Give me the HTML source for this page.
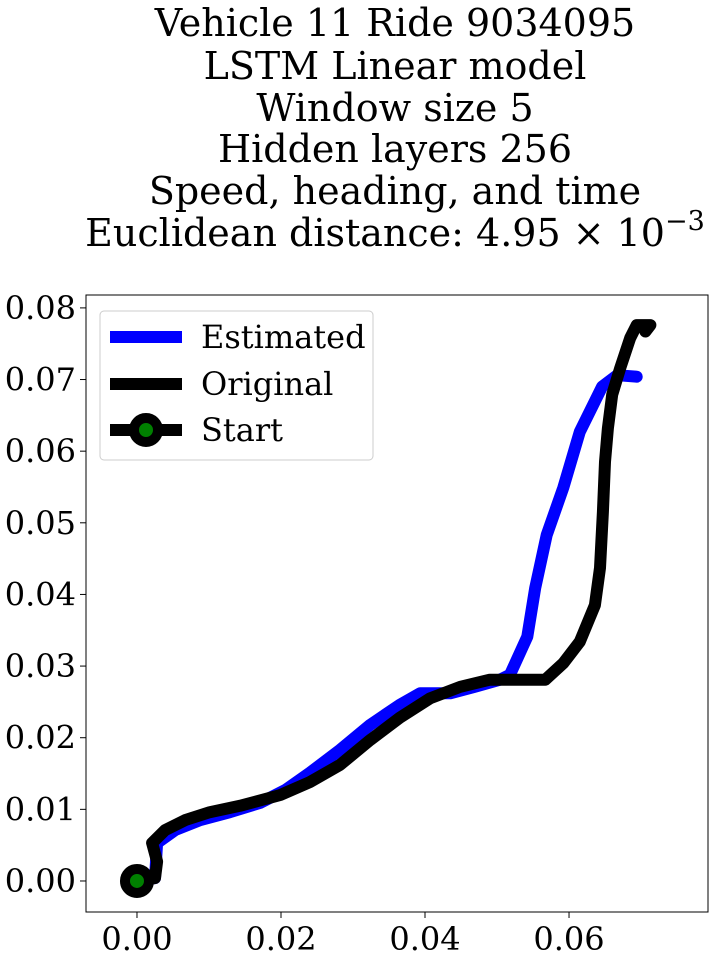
<!DOCTYPE html>
<html><head><meta charset="utf-8"><style>
body{margin:0;background:#fff;width:713px;height:958px;overflow:hidden}
svg text{font-family:"DejaVu Serif","Liberation Serif",serif;fill:#000}
</style></head><body>
<svg id="chart" width="713" height="958">
<g font-size="38" text-anchor="middle">
<text x="395" y="36">Vehicle 11 Ride 9034095</text>
<text x="395" y="79">LSTM Linear model</text>
<text x="395" y="121">Window size 5</text>
<text x="395" y="162">Hidden layers 256</text>
<text x="395" y="204">Speed, heading, and time</text>
<text x="395" y="246">Euclidean distance: 4.95 × 10<tspan dy="-16" font-size="27">−3</tspan></text>
</g>
<g id="plot"></g>
</svg>
<script>
const estX=[0,.0025,.0028,.0053,.0088,.0129,.0171,.0206,.0240,.0282,.0324,.0365,.0393,.0435,.0469,.0504,.0518,.0542,.0553,.0569,.0592,.0615,.0646,.0667,.0694];
const estY=[0,.0004,.0053,.0071,.0085,.0096,.0109,.0127,.0151,.0183,.0218,.0246,.0262,.0262,.0271,.0281,.0288,.0341,.0409,.0483,.0549,.0627,.0690,.0706,.0704];
const origX=[0,.0025,.0028,.0021,.0039,.0067,.0101,.0143,.0199,.0240,.0282,.0324,.0365,.0407,.0449,.0490,.0532,.0567,.0592,.0615,.0636,.0643,.0647,.0650,.0654,.0660,.0671,.0685,.0694,.0713,.0706];
const origY=[0,.0004,.0027,.0053,.0071,.0085,.0096,.0105,.0120,.0138,.0162,.0197,.0228,.0255,.0271,.0281,.0281,.0281,.0304,.0334,.0385,.0437,.0515,.0585,.0632,.0679,.0716,.0758,.0776,.0776,.0767];
const startPt=[0,0];
const xTicks=[0,0.02,0.04,0.06];
const xTickLabels=["0.00","0.02","0.04","0.06"];
const yTicks=[0,0.01,0.02,0.03,0.04,0.05,0.06,0.07,0.08];
const yTickLabels=["0.00","0.01","0.02","0.03","0.04","0.05","0.06","0.07","0.08"];

const L=86,R=708,T=295,B=912;
const xMin=-0.00708,xMax=0.0793,yMin=-0.00433,yMax=0.0818;
const sx=v=>L+(v-xMin)/(xMax-xMin)*(R-L);
const sy=v=>B-(v-yMin)/(yMax-yMin)*(B-T);
const NS="http://www.w3.org/2000/svg";
const g=document.getElementById('plot');
function mk(t,a,p){const e=document.createElementNS(NS,t);for(const k in a)e.setAttribute(k,a[k]);(p||g).appendChild(e);return e;}

const clip=mk('clipPath',{id:'cp'});mk('rect',{x:L,y:T,width:R-L,height:B-T},clip);

function line(xs,ys,color,name){
  const d=xs.map((x,i)=>(i?'L':'M')+sx(x).toFixed(1)+','+sy(ys[i]).toFixed(1)).join('');
  const p=mk('path',{d:d,fill:'none',stroke:color,'stroke-width':12,'stroke-linejoin':'round','stroke-linecap':'round','clip-path':'url(#cp)'});
  
  
}
line(estX,estY,'#0000ff','estimated-line');
line(origX,origY,'#000','original-line');

const sm=mk('circle',{cx:sx(startPt[0]),cy:sy(startPt[1]),r:12,fill:'#008000',stroke:'#000','stroke-width':10});



const fr=mk('rect',{x:L,y:T,width:R-L,height:B-T,fill:'none',stroke:'#000','stroke-width':1});



xTicks.forEach((v,i)=>{
  mk('line',{x1:sx(v),x2:sx(v),y1:B,y2:B+6,stroke:'#000'});
  const t=mk('text',{x:sx(v),y:B+38,'font-size':32,'text-anchor':'middle'});t.textContent=xTickLabels[i];
  
  
});
yTicks.forEach((v,i)=>{
  mk('line',{x1:L-6,x2:L,y1:sy(v),y2:sy(v),stroke:'#000'});
  const t=mk('text',{x:L-10,y:sy(v)+11,'font-size':32,'text-anchor':'end'});t.textContent=yTickLabels[i];
  
  
});

const lg=mk('g',{});


mk('rect',{x:100,y:311,width:273,height:149,rx:4,fill:'#fff',stroke:'#ccc'},lg);
const entries=[['Estimated','#0000ff',337,false],['Original','#000',384,false],['Start','#000',430,true]];
entries.forEach(e=>{
  const eg=mk('g',{},lg);
  
  
  mk('line',{x1:110,x2:182,y1:e[2],y2:e[2],stroke:e[1],'stroke-width':12},eg);
  if(e[3])mk('circle',{cx:146,cy:e[2],r:12,fill:'#008000',stroke:'#000','stroke-width':10},eg);
  const t=mk('text',{x:201,y:e[2]+11,'font-size':32},eg);t.textContent=e[0];
});
</script>
</body></html>
